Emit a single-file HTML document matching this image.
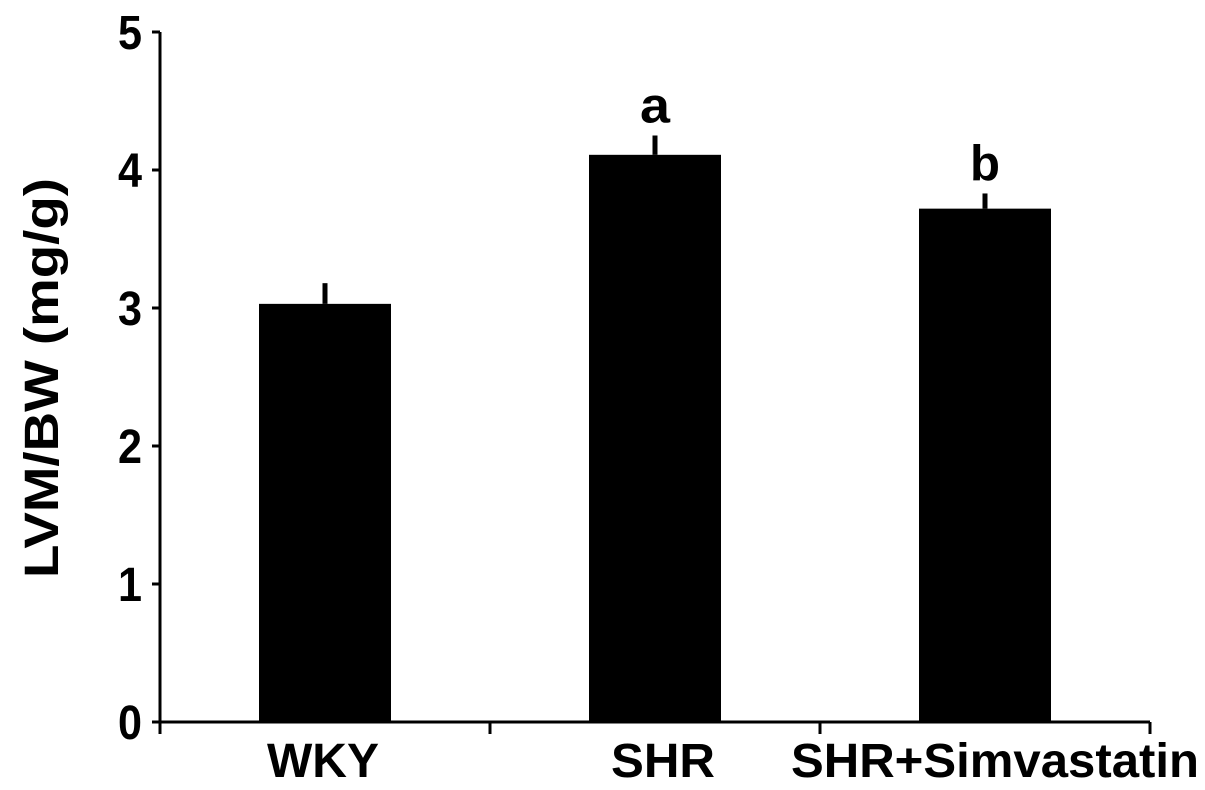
<!DOCTYPE html>
<html><head><meta charset="utf-8"><style>
html,body{margin:0;padding:0;background:#fff;}
svg{display:block;font-family:"Liberation Sans",Arial,sans-serif;font-weight:bold;}
</style></head><body>
<svg id="chart" width="1205" height="790" viewBox="0 0 1205 790"></svg>
<script>
const categories = ["WKY", "SHR", "SHR+Simvastatin"];
const values = [3.03, 4.11, 3.72];
const errors = [0.15, 0.14, 0.11];
const sigLabels = ["", "a", "b"];
const yTicks = [0, 1, 2, 3, 4, 5];

const svg = document.getElementById('chart');
const NS = 'http://www.w3.org/2000/svg';
const x0 = 160, x1 = 1150, y0 = 722, y5 = 32, yMax = 5;
const catW = (x1 - x0) / categories.length;
const barW = 132;
const labelWidths = [112, 104, 408];
const labelCenters = [323, 663, 995];
function yScale(v){ return y0 - (v / yMax) * (y0 - y5); }
function xCenter(i){ return x0 + catW * (i + 0.5); }
function mk(tag, attrs){ const e = document.createElementNS(NS, tag); for (const k in attrs) e.setAttribute(k, attrs[k]); svg.appendChild(e); return e; }

let e = mk('line', {x1:x0, y1:y5, x2:x0, y2:y0+6, stroke:'#000', 'stroke-width':3});


e = mk('line', {x1:x0-6, y1:y0, x2:x1, y2:y0, stroke:'#000', 'stroke-width':3});



yTicks.forEach(t => {
  const y = yScale(t);
  const tk = mk('line', {x1:x0-8, y1:y, x2:x0, y2:y, stroke:'#000', 'stroke-width':3});
  
  
  const lb = mk('text', {x:142, y:y+17, 'text-anchor':'end', 'font-size':48, textLength:24, lengthAdjust:'spacingAndGlyphs'});
  lb.textContent = t;
  
  
});

for (let i = 0; i <= categories.length; i++) {
  const x = x0 + catW * i;
  const tk = mk('line', {x1:x, y1:y0, x2:x, y2:y0+12, stroke:'#000', 'stroke-width':3});
  
  
}

categories.forEach((c, i) => {
  const cx = xCenter(i);
  const top = yScale(values[i]);
  const bar = mk('rect', {x:cx-barW/2, y:top, width:barW, height:y0-top, fill:'#000'});
  
  
  const eTop = yScale(values[i] + errors[i]);
  const err = mk('line', {x1:cx, y1:top, x2:cx, y2:eTop, stroke:'#000', 'stroke-width':5});
  
  
  const lb = mk('text', {x:labelCenters[i], y:777, 'text-anchor':'middle', 'font-size':48, textLength:labelWidths[i], lengthAdjust:'spacingAndGlyphs'});
  lb.textContent = c;
  
  
  if (sigLabels[i]) {
    const s = mk('text', {x:cx, y:eTop-13, 'text-anchor':'middle', 'font-size':50, textLength:30, lengthAdjust:'spacingAndGlyphs'});
    s.textContent = sigLabels[i];
    
    
  }
});

const yt = mk('text', {x:0, y:0, 'text-anchor':'middle', 'font-size':48, textLength:400, lengthAdjust:'spacingAndGlyphs', transform:'translate(58,378) rotate(-90)'});
yt.textContent = 'LVM/BW (mg/g)';


</script>
</body></html>
